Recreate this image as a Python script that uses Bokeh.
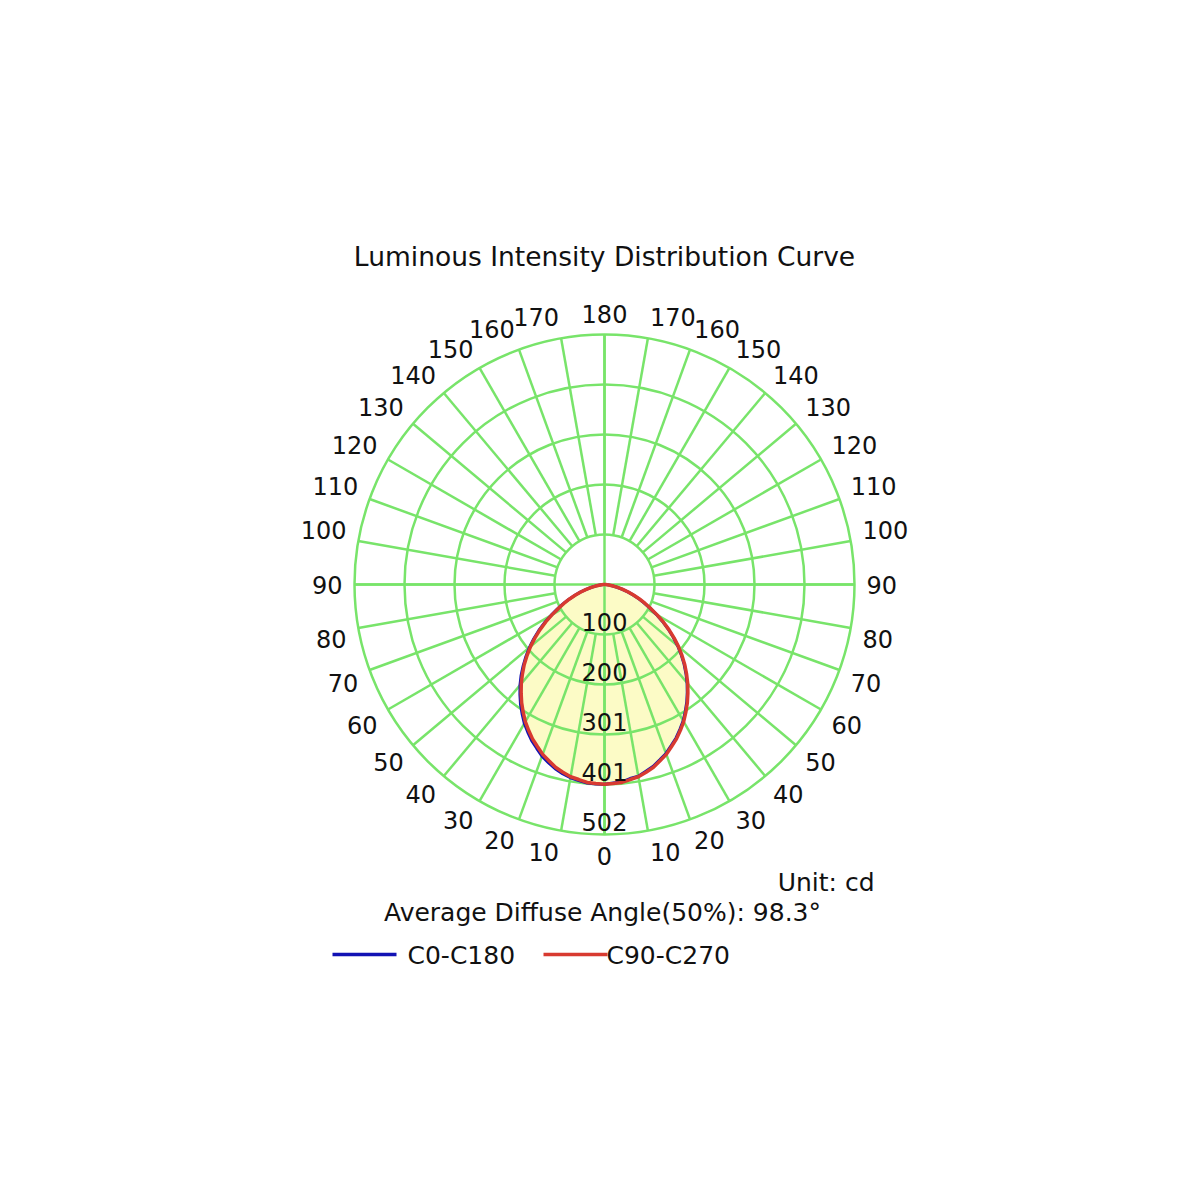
import numpy as np
from bokeh.plotting import figure
from bokeh.models import Range1d
from bokeh.core.properties import value
from bokeh.embed import file_html
from bokeh.resources import INLINE

title = "Luminous Intensity Distribution Curve"
unit_text = "Unit: cd"
beam_text = "Average Diffuse Angle(50%): 98.3°"

# gamma angles (deg from nadir) and intensities in cd
gamma = [0, 2.5, 5, 7.5, 10, 12.5, 15, 17.5, 20, 22.5, 25, 27.5, 30, 32.5, 35, 37.5, 40, 42.5, 45,
         47.5, 50, 52.5, 55, 57.5, 60, 62.5, 65, 67.5, 70, 72.5, 75, 77.5, 80, 82.5, 85, 87.5, 90]
c180 = [401, 401, 400, 397, 394, 389, 383, 375, 367, 356, 346, 334, 322, 308, 294, 279, 264, 248, 231,
        214, 197, 179, 161, 143, 124, 107, 92, 77, 63, 51, 39, 28, 19, 11, 6, 2, 0]
c0 = [401, 399, 398, 393, 391, 384, 378, 369, 361, 350, 340, 328, 316, 302, 288, 273, 258, 242, 226,
      209, 192, 174, 156, 138, 120, 103, 88, 74, 61, 49, 37, 26, 17, 10, 6, 2, 0]
c270 = [401, 400, 399, 395, 392, 386, 380, 371, 363, 352, 342, 330, 318, 304, 290, 275, 260, 244, 228,
        211, 194, 176, 158, 140, 122, 105, 90, 76, 62, 50, 38, 27, 18, 11, 6, 2, 0]
c90 = [401, 400, 399, 395, 392, 386, 380, 371, 363, 352, 342, 330, 318, 304, 290, 275, 260, 244, 228,
       211, 194, 176, 158, 140, 122, 105, 90, 76, 62, 50, 38, 27, 18, 11, 6, 2, 0]

max_cd = 502
ring_labels = ["100", "200", "301", "401", "502"]
angle_ticks = list(range(0, 181, 10))

BLUE = "#1212b4"
RED = "#d83a30"
GRID = "#78e46a"
FILL = "#fcfbc6"
FONT = "DejaVu Sans"

# page layout (screen px): chart centre and outer radius
W = H = 1184
CX, CY, R_OUT = 604, 584, 250
S = max_cd / R_OUT  # cd per pixel


def X(sx):
    return (sx - CX) * S


def Y(sy):
    return (CY - sy) * S


def polar(side, ang, r):
    a = np.radians(np.asarray(ang, dtype=float))
    r = np.asarray(r, dtype=float)
    return side * r * np.sin(a), -r * np.cos(a)


def curve(left, right):
    xl, yl = polar(-1, gamma, left)
    xr, yr = polar(1, gamma, right)
    return np.concatenate([xl[::-1], xr]), np.concatenate([yl[::-1], yr])


p = figure(width=W, height=H, x_range=Range1d(X(0), X(W)), y_range=Range1d(Y(H), Y(0)),
           output_backend="svg", toolbar_location=None, min_border=0)
p.axis.visible = False
p.grid.visible = False
p.outline_line_color = None
p.background_fill_color = "white"
p.border_fill_color = "white"

# yellow fill under the curves
fx, fy = curve(c270, c90)
p.patch(fx, fy, fill_color=FILL, line_color=None)

# polar grid
rings = [max_cd * k / 5 for k in range(1, 6)]
p.circle(x=[0] * 5, y=[0] * 5, radius=rings, fill_color=None, line_color=GRID, line_width=2.5)
spokes = np.radians(np.arange(0, 360, 10))
p.segment(x0=rings[0] * np.sin(spokes), y0=rings[0] * np.cos(spokes),
          x1=max_cd * np.sin(spokes), y1=max_cd * np.cos(spokes), line_color=GRID, line_width=2.5)
p.segment(x0=[-max_cd, 0], y0=[0, -max_cd], x1=[max_cd, 0], y1=[0, max_cd], line_color=GRID, line_width=2.5)

# curves
bx, by = curve(c180, c0)
p.line(bx, by, line_color=BLUE, line_width=3)
rx, ry = curve(c270, c90)
p.line(rx, ry, line_color=RED, line_width=3.5)

# ring labels (centred just above each ring)
p.text(x=[0] * 5, y=[-r + 13 * S for r in rings], text=ring_labels, text_font=value(FONT),
       text_font_size="24px", text_color="#111111", text_align="center", text_baseline="middle")

# angle labels around the circle
r_lab = 262 * S
for side, align in ((-1, "right"), (1, "left")):
    for sel, base in ((lambda a: 0 < a < 90, "top"), (lambda a: a == 90, "middle"), (lambda a: 90 < a < 180, "bottom")):
        angs = [a for a in angle_ticks if sel(a)]
        lx, ly = polar(side, angs, [r_lab] * len(angs))
        p.text(x=lx, y=ly, text=[str(a) for a in angs], text_font=value(FONT), text_font_size="24px",
               text_color="#111111", text_align=align, text_baseline=base)
for a, base in ((0, "top"), (180, "bottom")):
    lx, ly = polar(1, [a], [r_lab])
    p.text(x=lx, y=ly, text=[str(a)], text_font=value(FONT), text_font_size="24px",
           text_color="#111111", text_align="center", text_baseline=base)

# title and notes
p.text(x=[X(604)], y=[Y(256)], text=[title], text_font=value(FONT), text_font_size="26.5px",
       text_color="#111111", text_align="center", text_baseline="middle")
p.text(x=[X(874)], y=[Y(882)], text=[unit_text], text_font=value(FONT), text_font_size="25px",
       text_color="#111111", text_align="right", text_baseline="middle")
p.text(x=[X(602)], y=[Y(912)], text=[beam_text], text_font=value(FONT), text_font_size="25px",
       text_color="#111111", text_align="center", text_baseline="middle")

# legend
p.segment(x0=[X(332), X(543)], y0=[Y(954), Y(954)], x1=[X(396), X(607)], y1=[Y(954), Y(954)],
          line_color=[BLUE, RED], line_width=3.5)
p.text(x=[X(407), X(606)], y=[Y(955), Y(955)], text=["C0-C180", "C90-C270"], text_font=value(FONT),
       text_font_size="25px", text_color="#111111", text_align="left", text_baseline="middle")

open("out.html", "w").write(file_html(p, INLINE))
